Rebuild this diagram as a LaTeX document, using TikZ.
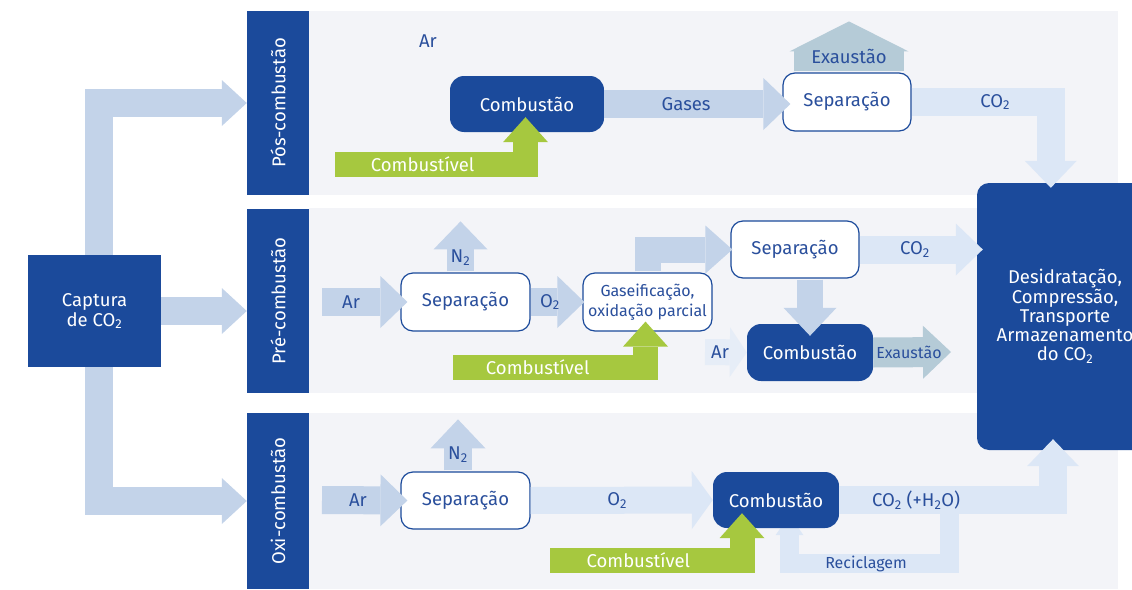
\documentclass[tikz,border=0pt]{standalone}
\usepackage{fontspec}
\setmainfont{Fira Sans}
\usetikzlibrary{arrows.meta,calc,backgrounds}

\definecolor{navy}{HTML}{1B4A9B}
\definecolor{inktxt}{HTML}{2A4F9C}
\definecolor{panelbg}{HTML}{F3F4F8}
\definecolor{flowmid}{HTML}{C3D3E9}
\definecolor{flowlt}{HTML}{DCE7F6}
\definecolor{flowair}{HTML}{E6EDF7}
\definecolor{exhaust}{HTML}{B5CBD7}
\definecolor{fuel}{HTML}{A6C83F}

\tikzset{
  big/.style={font=\fontsize{18.5}{20}\selectfont},
  small/.style={font=\fontsize{16}{19.5}\selectfont},
  darkbox/.style={big, fill=navy, text=white, rounded corners=14pt, inner sep=0pt},
  openbox/.style={big, draw=navy, line width=1.2pt, fill=white, text=inktxt, rounded corners=12pt, inner sep=0pt},
  band/.style={big, fill=navy, text=white, rotate=90, inner sep=0pt, minimum height=62pt},
  lab/.style={big, text=inktxt, inner sep=0pt},
  wlab/.style={big, text=white, inner sep=0pt},
  blk/.style n args={3}{line width=#1, -{Triangle[width=#2 0 0,length=#3 0 0,line width=0pt 0 0]}},
  flow/.style={blk={28pt}{52pt}{27pt}},
  fuelflow/.style={draw=fuel, blk={25pt}{45pt}{25pt}},
}

\begin{document}
\begin{tikzpicture}[x=1pt,y=-1pt]
\useasboundingbox (0,0) rectangle (1132,589);

% panels
\begin{scope}[on background layer]
  \fill[panelbg] (309,11) rectangle (1118,195);
  \fill[panelbg] (309,208) rectangle (1118,393);
  \fill[panelbg] (309,413) rectangle (1118,589);
\end{scope}

% side bands and main boxes
\node[band, minimum width=184pt] (posb) at (278,103) {Pós-combustão};
\node[band, minimum width=184pt] (preb) at (278,301) {Pré-combustão};
\node[band, minimum width=176pt] (oxib) at (278,501) {Oxi-combustão};

\node[darkbox, sharp corners, minimum width=133pt, minimum height=112pt, align=center] (cap) at (94.5,311) {Captura\\de CO\textsubscript{2}};
\node[darkbox, rounded corners=12pt, minimum width=176pt, minimum height=267pt, align=center, font=\fontsize{18.5}{19.2}\selectfont] (stor) at (1065,316.5)
  {Desidratação,\\Compressão,\\Transporte\\Armazenamento\\do CO\textsubscript{2}};

% pos-combustao
\node[lab] (artop) at (428,41) {Ar};
\node[darkbox, minimum width=154pt, minimum height=56pt] (comb1) at (527,104) {Combustão};
\node[openbox, minimum width=128pt, minimum height=58pt] (sep1) at (847,102) {Separação};

% pre-combustao
\node[openbox, minimum width=129pt, minimum height=58pt] (sepA) at (465.5,302) {Separação};
\node[openbox, small, minimum width=129pt, minimum height=58pt, align=center] (gas) at (647.5,302) {Gaseificação,\\oxidação parcial};
\node[openbox, minimum width=128pt, minimum height=57pt] (sepB) at (795,249.5) {Separação};
\node[darkbox, minimum width=126pt, minimum height=57pt] (combB) at (810,352.5) {Combustão};

% oxi-combustao
\node[openbox, minimum width=129pt, minimum height=57pt] (sepC) at (465.5,500.5) {Separação};
\node[darkbox, minimum width=126pt, minimum height=56pt] (combC) at (776,500) {Combustão};

\coordinate (fuel1) at (335,164);
\coordinate (fuel2) at (453,367);
\coordinate (fuel3) at (550,560.5);
\coordinate (airA) at (322,302);
\coordinate (airB) at (705,352);
\coordinate (airC) at (322,500);
\coordinate (exB) at (951,352);
\coordinate (rec) at (949,563.5);

% capture branches
\draw[blk={28pt}{46pt}{25pt}, flowmid] ($(cap.north)+(4.5,0)$) |- (posb.north);
\draw[blk={28pt}{46pt}{25pt}, flowmid] (cap.east) -- (cap.east -| preb.north);
\draw[blk={28pt}{46pt}{25pt}, flowmid] ($(cap.south)+(4.5,0)$) |- (oxib.north);

% flows, top
\draw[fuelflow] (fuel1) -| node[wlab, pos=0.23] {Combustível} ($(comb1.south)+(-1.5,-15)$);
\draw[flow, flowmid] (comb1.east) -- node[lab, pos=0.44] {Gases} ($(comb1.east -| sep1.west)+(8,0)$);
\draw[blk={110pt}{119pt}{30pt}, exhaust] ($(sep1.north)+(2,-1)$) -- node[lab, pos=0.3] {Exaustão} ++(0,-50);
\draw[flow, flowlt] (sep1.east) -| node[lab, pos=0.3] {CO\textsubscript{2}} ($(stor.north west)+(74,5)$);

% flows, middle
\draw[flow, flowmid] (airA) -- node[lab, pos=0.34] {Ar} ($(sepA.west)+(7,0)$);
\draw[blk={27pt}{54pt}{28pt}, flowmid] ($(sepA.north)+(-5,-1)$) -- node[lab, pos=0.28] {N\textsubscript{2}} ++(0,-50);
\draw[flow, flowmid] (sepA.east) -- node[lab, pos=0.36] {O\textsubscript{2}} ($(gas.west)+(2,0)$);
\draw[fuelflow] (fuel2) -| node[wlab, pos=0.22] {Combustível} ($(gas.south)+(-2,-10)$);
\draw[blk={26pt}{48pt}{27pt}, flowmid] ($(gas.north)+(0,-1)$) |- ($(sepB.west)+(2,0)$);
\draw[flow, flowlt] (sepB.east) -- node[lab, pos=0.45] {CO\textsubscript{2}} ($(stor.west |- sepB.east)+(6,0)$);
\draw[blk={26pt}{53pt}{28pt}, flowmid] ($(sepB.south -| combB.north)+(0,1)$) -- ($(combB.north)+(0,12)$);
\draw[blk={26pt}{50pt}{17pt}, flowair] (airB) -- node[lab, pos=0.36] {Ar} (combB.west);
\draw[blk={30pt}{53pt}{28pt}, exhaust] (combB.east) -- node[lab, small, pos=0.46] {Exaustão} (exB);

% flows, bottom
\draw[flow, flowmid] (airC) -- node[lab, pos=0.42] {Ar} ($(sepC.west)+(7,0)$);
\draw[blk={28pt}{55pt}{29pt}, flowmid] ($(sepC.north)+(-7.5,-1)$) -- node[lab, pos=0.31] {N\textsubscript{2}} ++(0,-51);
\draw[blk={27pt}{58pt}{21pt}, flowlt] (sepC.east) -- node[lab, pos=0.475] {O\textsubscript{2}} (combC.west);
\draw[fuelflow] (fuel3) -| node[wlab, pos=0.23] {Combustível} ($(combC.south)+(-34,-15)$);
\draw[flow, flowlt] (combC.east) -| node[lab, pos=0.18] {CO\textsubscript{2} (+H\textsubscript{2}O)} ($(stor.south)+(-12,-11)$);

\begin{scope}[on background layer]
  \draw[blk={19pt}{28pt}{20pt}, flowlt] (rec |- combC.east) -- (rec) -| node[lab, small, pos=0.26] {Reciclagem} ($(combC.south)+(13.5,-13)$);
\end{scope}
\end{tikzpicture}
\end{document}
